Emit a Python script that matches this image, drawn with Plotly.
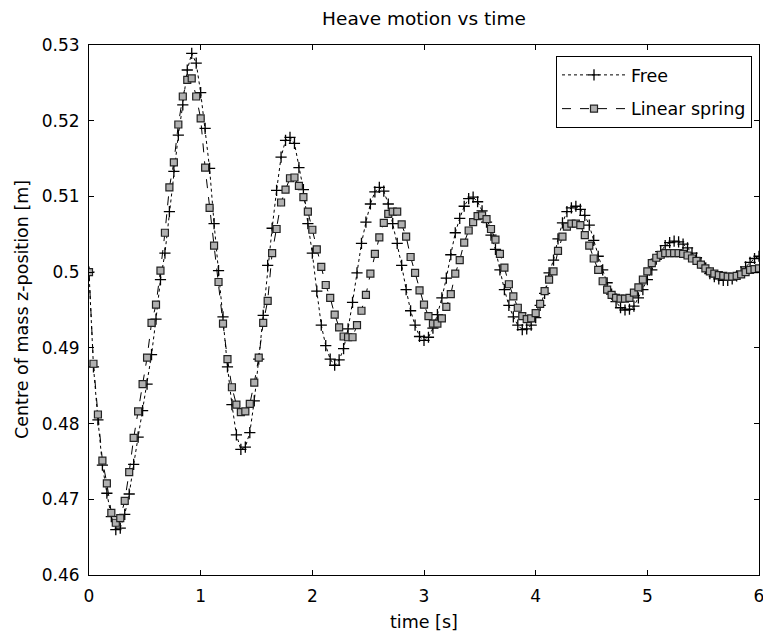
import plotly.graph_objects as go

# time grid (s), step 0.04
time_s = [round(i * 0.04, 2) for i in range(151)]

free_z = [
    0.5000, 0.4875, 0.4805, 0.4745, 0.4708, 0.4677, 0.4660, 0.4662, 0.4680, 0.4707,
    0.4746, 0.4782, 0.4817, 0.4852, 0.4891, 0.4938, 0.4990, 0.5025, 0.5080, 0.5133,
    0.5181, 0.5221, 0.5267, 0.5289, 0.5276,
    0.5237, 0.5190, 0.5137, 0.5064, 0.5002, 0.4941, 0.4875, 0.4825, 0.4785, 0.4766,
    0.4769, 0.4788, 0.4830, 0.4885, 0.4943, 0.5009, 0.5058, 0.5108, 0.5152, 0.5174,
    0.5178, 0.5170, 0.5138, 0.5109, 0.5064,
    0.5025, 0.4975, 0.4930, 0.4903, 0.4885, 0.4877, 0.4884, 0.4899, 0.4925, 0.4960,
    0.4999, 0.5038, 0.5066, 0.5090, 0.5106, 0.5112, 0.5107, 0.5090, 0.5064, 0.5038,
    0.5009, 0.4977, 0.4949, 0.4930, 0.4915,
    0.4910, 0.4914, 0.4926, 0.4944, 0.4966, 0.4992, 0.5023, 0.5052, 0.5071, 0.5087,
    0.5097, 0.5099, 0.5093, 0.5081, 0.5066, 0.5049, 0.5030, 0.5003, 0.4977, 0.4956,
    0.4941, 0.4930, 0.4924, 0.4925, 0.4930,
    0.4940, 0.4956, 0.4972, 0.4999, 0.5016, 0.5044, 0.5065, 0.5080, 0.5085, 0.5087,
    0.5083, 0.5075, 0.5062, 0.5042, 0.5021, 0.5003, 0.4986, 0.4971, 0.4961, 0.4953,
    0.4950, 0.4951, 0.4955, 0.4966, 0.4977,
    0.4990, 0.5003, 0.5017, 0.5027, 0.5035, 0.5039, 0.5041, 0.5040, 0.5037, 0.5032,
    0.5025, 0.5019, 0.5012, 0.5005, 0.4998, 0.4994, 0.4991, 0.4989, 0.4989, 0.4991,
    0.4995, 0.5000, 0.5007, 0.5013, 0.5018,
    0.5021,
]

spring_z = [
    0.5000, 0.4879, 0.4812, 0.4751, 0.4721, 0.4682, 0.4669, 0.4675, 0.4698, 0.4736,
    0.4781, 0.4816, 0.4852, 0.4887, 0.4933, 0.4957, 0.5002, 0.5052, 0.5112, 0.5145,
    0.5195, 0.5232, 0.5254, 0.5256, 0.5232,
    0.5203, 0.5138, 0.5085, 0.5035, 0.4987, 0.4932, 0.4885, 0.4848, 0.4825, 0.4815,
    0.4816, 0.4826, 0.4854, 0.4887, 0.4933, 0.4962, 0.5025, 0.5057, 0.5092, 0.5109,
    0.5124, 0.5125, 0.5114, 0.5099, 0.5080,
    0.5056, 0.5030, 0.5007, 0.4983, 0.4966, 0.4944, 0.4927, 0.4915, 0.4914, 0.4914,
    0.4930, 0.4949, 0.4970, 0.4998, 0.5024, 0.5046, 0.5065, 0.5077, 0.5080, 0.5080,
    0.5063, 0.5047, 0.5020, 0.4999, 0.4976,
    0.4957, 0.4942, 0.4932, 0.4932, 0.4939, 0.4954, 0.4971, 0.4998, 0.5016, 0.5039,
    0.5055, 0.5066, 0.5074, 0.5075, 0.5070, 0.5057, 0.5043, 0.5024, 0.5006, 0.4984,
    0.4968, 0.4953, 0.4942, 0.4938, 0.4939,
    0.4946, 0.4958, 0.4975, 0.4990, 0.5001, 0.5028, 0.5047, 0.5060, 0.5064, 0.5064,
    0.5062, 0.5049, 0.5035, 0.5018, 0.5003, 0.4988, 0.4977, 0.4970, 0.4966, 0.4965,
    0.4965, 0.4966, 0.4973, 0.4980, 0.4990,
    0.5001, 0.5012, 0.5019, 0.5023, 0.5025, 0.5025, 0.5025, 0.5025, 0.5024, 0.5022,
    0.5018, 0.5015, 0.5010, 0.5005, 0.5001, 0.4998, 0.4996, 0.4995, 0.4994, 0.4994,
    0.4995, 0.4997, 0.5000, 0.5003, 0.5004,
    0.5005,
]

x_ticks = [0, 1, 2, 3, 4, 5, 6]
x_tick_labels = ["0", "1", "2", "3", "4", "5", "6"]
y_ticks = [0.46, 0.47, 0.48, 0.49, 0.50, 0.51, 0.52, 0.53]
y_tick_labels = ["0.46", "0.47", "0.48", "0.49", "0.5", "0.51", "0.52", "0.53"]

FONT = "DejaVu Sans"
W, H = 763, 642
L, R, T, B = 89, 4, 45, 67

fig = go.Figure()
fig.add_trace(go.Scatter(
    x=time_s, y=free_z, name="Free", mode="lines+markers",
    line=dict(color="black", width=1, dash="dot"),
    marker=dict(symbol="cross-thin", size=8, line=dict(color="black", width=1.3)),
    legendgroup="a",
))
fig.add_trace(go.Scatter(
    x=time_s, y=spring_z, name="Linear spring", mode="lines+markers",
    line=dict(color="black", width=1, dash="dash"),
    marker=dict(symbol="square", size=7, color="#b0b0b0",
                line=dict(color="#222222", width=1.2)),
    legendgroup="b",
))

axis_common = dict(
    showline=True, linecolor="black", linewidth=1, mirror="ticks",
    ticks="inside", ticklen=5, tickcolor="black", showgrid=False, zeroline=False,
    tickfont=dict(family=FONT, size=17, color="black"),
    ticklabeloverflow="allow", automargin=False,
)
fig.update_xaxes(range=[0, 6], tickvals=x_ticks, ticktext=x_tick_labels,
                 ticklabelstandoff=6, **axis_common)
fig.update_yaxes(range=[0.46, 0.53], tickvals=y_ticks, ticktext=y_tick_labels,
                 ticklabelstandoff=5, **axis_common)

plot_cx = (L + (W - R)) / 2 / W

fig.update_layout(
    width=W, height=H,
    margin=dict(l=L, r=R, t=T, b=B, autoexpand=False),
    plot_bgcolor="white", paper_bgcolor="white",
    font=dict(family=FONT, size=17, color="black"),
    title=dict(text="Heave motion vs time", x=plot_cx, xanchor="center",
               y=1 - 19 / H, yanchor="middle", yref="container",
               font=dict(family=FONT, size=18.5, color="black")),
    showlegend=True,
    legend=dict(x=(752 - L) / (W - L - R), xanchor="right",
                y=(H - B - 56) / (H - T - B), yanchor="top",
                bgcolor="white", bordercolor="black", borderwidth=1,
                font=dict(family=FONT, size=17.5, color="black"),
                traceorder="grouped", tracegroupgap=8, itemwidth=64),
    annotations=[
        dict(text="time [s]", xref="paper", yref="paper", x=0.5, y=0,
             yshift=-47, yanchor="middle", showarrow=False,
             font=dict(family=FONT, size=17.5, color="black")),
        dict(text="Centre of mass z-position [m]", xref="paper", yref="paper",
             x=0, y=0.5, xshift=-67, xanchor="center", yanchor="middle",
             textangle=-90, showarrow=False,
             font=dict(family=FONT, size=17.5, color="black")),
    ],
)

fig.write_html(
    "out.html",
    config={"displayModeBar": False},
    post_script="document.body.style.margin='0px';document.body.style.overflow='hidden';",
)
